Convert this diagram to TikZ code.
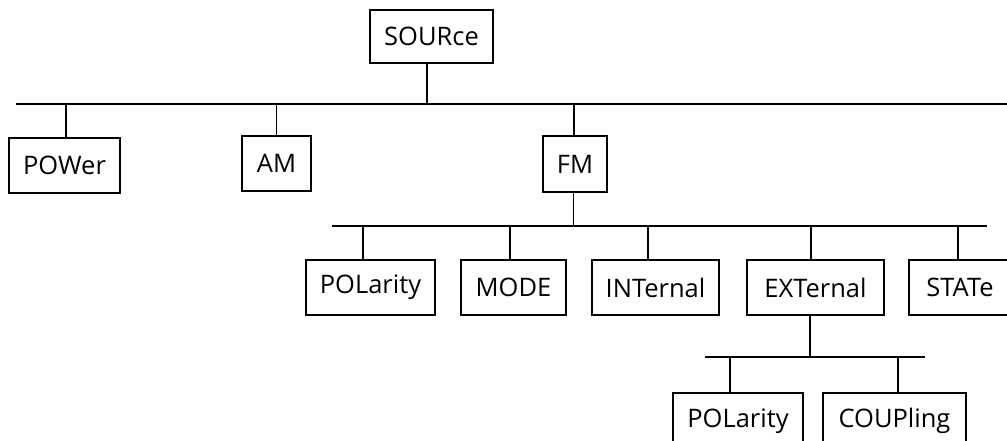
\documentclass[tikz,border=0pt]{standalone}
\usepackage{fontspec}
\setmainfont{Open Sans}
\begin{document}
\begin{tikzpicture}[x=1pt,y=-1pt,
  box/.style={draw, line width=1.4pt, inner sep=0pt, font=\fontsize{25.5}{30}\selectfont, anchor=center},
  bus/.style={line width=2pt},
  tie/.style={line width=1.5pt}]
\useasboundingbox (0,0) rectangle (1007,441);
\clip (0,0) rectangle (1007,441);
% level 0
\node[box, minimum width=123pt, minimum height=53pt] (src) at (431.5,36.5) {SOURce};
\coordinate (b1l) at (16,104);
\coordinate (b1r) at (1010,104);
\draw[bus] (b1l) -- (b1r);
\draw[tie] ([xshift=-4.5pt]src.south) -- ([xshift=-4.5pt]src.south |- b1l);
% level 1
\node[box, minimum width=111pt, minimum height=55pt] (pow) at (64.5,165.5) {POWer};
\node[box, minimum width=69pt, minimum height=55pt] (am) at (276.5,163.5) {AM};
\node[box, minimum width=64pt, minimum height=56pt] (fm) at (575,164) {FM};
\draw[tie] ([xshift=1.5pt]pow.north) -- ([xshift=1.5pt]pow.north |- b1l);
\draw[tie] (am.north) -- (am.north |- b1l);
\draw[tie] ([xshift=-1pt]fm.north) -- ([xshift=-1pt]fm.north |- b1l);
% level 2
\coordinate (b2l) at (332,226);
\coordinate (b2r) at (987,226);
\draw[bus] (b2l) -- (b2r);
\draw[tie] ([xshift=-1.5pt]fm.south) -- ([xshift=-1.5pt]fm.south |- b2l);
\node[box, minimum width=129pt, minimum height=55pt] (pol) at (370.5,287.5) {POLarity};
\node[box, minimum width=105pt, minimum height=55pt] (mode) at (513.5,287.5) {MODE};
\node[box, minimum width=127pt, minimum height=55pt] (int) at (655.5,287.5) {INTernal};
\node[box, minimum width=137pt, minimum height=55pt] (ext) at (815.5,287.5) {EXTernal};
\node[box, minimum width=102pt, minimum height=55pt] (stat) at (960,287.5) {STATe};
\draw[tie] ([xshift=-7.5pt]pol.north) -- ([xshift=-7.5pt]pol.north |- b2l);
\draw[tie] ([xshift=-3.5pt]mode.north) -- ([xshift=-3.5pt]mode.north |- b2l);
\draw[tie] ([xshift=-7.5pt]int.north) -- ([xshift=-7.5pt]int.north |- b2l);
\draw[tie] ([xshift=-4.5pt]ext.north) -- ([xshift=-4.5pt]ext.north |- b2l);
\draw[tie] ([xshift=-2pt]stat.north) -- ([xshift=-2pt]stat.north |- b2l);
% level 3
\coordinate (b3l) at (705,357);
\coordinate (b3r) at (925,357);
\draw[bus] (b3l) -- (b3r);
\draw[tie] ([xshift=-5.5pt]ext.south) -- ([xshift=-5.5pt]ext.south |- b3l);
\node[box, minimum width=130pt, minimum height=56pt] (pol2) at (738,421) {POLarity};
\node[box, minimum width=143pt, minimum height=56pt] (coup) at (894.5,421) {COUPling};
\draw[tie] ([xshift=-8pt]pol2.north) -- ([xshift=-8pt]pol2.north |- b3l);
\draw[tie] ([xshift=3.5pt]coup.north) -- ([xshift=3.5pt]coup.north |- b3l);
\end{tikzpicture}
\end{document}
